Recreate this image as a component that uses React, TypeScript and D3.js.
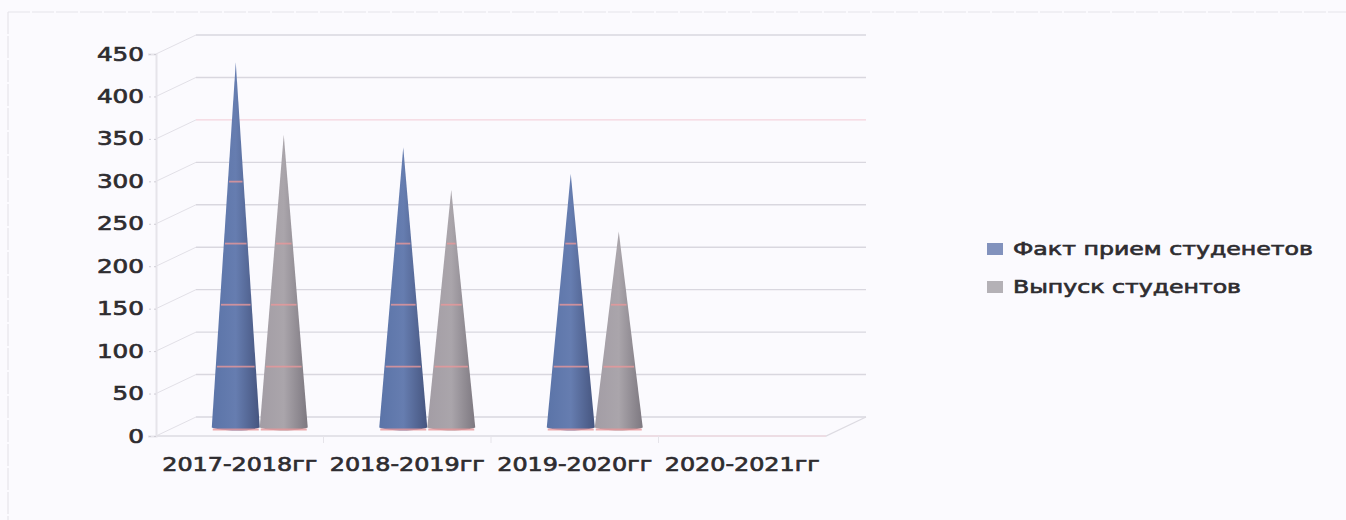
import React, { useEffect, useRef } from 'react';
import * as d3 from 'd3';

const categories = ['2017-2018гг', '2018-2019гг', '2019-2020гг', '2020-2021гг'];
const seriesNames = ['Факт прием студенетов', 'Выпуск студентов'];
const admitted = [430, 330, 299, 0];
const graduated = [345, 280, 231, 0];
const yTicks = [0, 50, 100, 150, 200, 250, 300, 350, 400, 450];
const stripeValues = [0, 74, 147, 219, 292];

const width = 1346;
const height = 520;
const left = 156;
const right = 826;
const floorY = 436;
const topY = 54;
const depthX = 40;
const depthY = 19;
const coneHalf = 24;
const fontFamily = '"DejaVu Sans", sans-serif';
const inkColor = '#2e2c30';
const inkWeight = 0.65;

const App: React.FC = () => {
    const svgRef = useRef<SVGSVGElement | null>(null);

    useEffect(() => {
        if (!svgRef.current) return;
        const svg = d3.select(svgRef.current);
        svg.selectAll('*').remove();

        const x = d3.scaleBand<string>().domain(categories).range([left, right]);
        const series = d3.scaleBand<string>()
            .domain(seriesNames)
            .range([-coneHalf * 2, coneHalf * 2]);
        const y = d3.scaleLinear().domain([0, 450]).range([floorY, topY]);

        svg.append('rect').attr('width', width).attr('height', height).attr('fill', '#fbfafe');

        // scanned page border
        svg.append('path')
            .attr('d', 'M8,12H1346M8,12V520')
            .attr('fill', 'none')
            .attr('stroke', '#e6e4ea')
            .attr('stroke-width', 1.2)
            .attr('stroke-dasharray', '22,2');

        const defs = svg.append('defs');
        const gradients = [
            ['#5b74a8', '#667db0', '#46557f'],
            ['#a39da5', '#aaa5ab', '#7d7880'],
        ];
        gradients.forEach((stops, i) => {
            const g = defs.append('linearGradient').attr('id', `cone${i}`);
            g.append('stop').attr('offset', '0%').attr('stop-color', stops[0]);
            g.append('stop').attr('offset', '50%').attr('stop-color', stops[1]);
            g.append('stop').attr('offset', '100%').attr('stop-color', stops[2]);
        });

        // back wall gridlines and their diagonals on the side wall
        const grid = svg.append('g');
        yTicks.forEach((t) => {
            const pink = t === 350;
            grid.append('line')
                .attr('x1', left + depthX).attr('x2', right + depthX)
                .attr('y1', y(t) - depthY).attr('y2', y(t) - depthY)
                .attr('stroke', pink ? '#f5d3dd' : '#d9d7df')
                .attr('stroke-width', 1.4);
            grid.append('line')
                .attr('x1', left).attr('x2', left + depthX)
                .attr('y1', y(t)).attr('y2', y(t) - depthY)
                .attr('stroke', '#e2e0e7')
                .attr('stroke-width', 1);
        });

        // floor
        grid.append('path')
            .attr('d', `M${left},${floorY}H${right}l${depthX},${-depthY}`)
            .attr('fill', 'none')
            .attr('stroke', '#dddbe2')
            .attr('stroke-width', 1.3);
        grid.append('line')
            .attr('x1', 640).attr('x2', right)
            .attr('y1', floorY).attr('y2', floorY)
            .attr('stroke', '#f6d8e0')
            .attr('stroke-width', 1.2);

        // value axis
        const yAxis = d3.axisLeft(y).tickValues(yTicks).tickSize(8).tickPadding(4);
        const yG = svg.append('g').attr('transform', `translate(${left},0)`).call(yAxis);
        yG.select('.domain').attr('stroke', '#e6e4ea').attr('stroke-width', 2);
        yG.selectAll('.tick line').attr('stroke', '#cfcdd5').attr('stroke-dasharray', '2,3');
        yG.selectAll('.tick text')
            .attr('font-family', fontFamily)
            .attr('font-size', 19)
            .attr('fill', inkColor)
            .attr('stroke', inkColor)
            .attr('stroke-width', inkWeight)
            .attr('textLength', (d) => `${d}`.length * 15.7)
            .attr('lengthAdjust', 'spacingAndGlyphs');

        // category axis
        const xAxis = d3.axisBottom(x).tickSize(0).tickPadding(22);
        const xG = svg.append('g').attr('transform', `translate(0,${floorY})`).call(xAxis);
        xG.select('.domain').remove();
        xG.selectAll('.tick text')
            .attr('font-family', fontFamily)
            .attr('font-size', 19)
            .attr('fill', inkColor)
            .attr('stroke', inkColor)
            .attr('stroke-width', inkWeight)
            .attr('textLength', 155)
            .attr('lengthAdjust', 'spacingAndGlyphs');
        x.domain().forEach((c, i) => {
            const tx = left + i * x.step();
            if (i === 0) return;
            svg.append('line')
                .attr('x1', tx).attr('x2', tx)
                .attr('y1', floorY).attr('y2', floorY + 7)
                .attr('stroke', '#e6e4ea');
        });

        // cones stand half way into the floor depth
        [admitted, graduated].forEach((values, s) => {
            const g = svg.append('g');
            values.forEach((v, i) => {
                if (v <= 0) return;
                const cx = (x(categories[i]) as number) + x.bandwidth() / 2 + depthX / 2
                    + (series(seriesNames[s]) as number) + series.bandwidth() / 2;
                const base = y(0) - depthY / 2 + 1;
                const apex = y(v) - depthY / 2 + 1;
                const path = d3.path();
                path.moveTo(cx - coneHalf, base);
                path.lineTo(cx, apex);
                path.lineTo(cx + coneHalf, base);
                path.bezierCurveTo(cx + coneHalf * 0.6, base + 4, cx - coneHalf * 0.6, base + 4, cx - coneHalf, base);
                path.closePath();
                g.append('path').attr('d', path.toString()).attr('fill', `url(#cone${s})`);

                stripeValues.filter((t) => t < v - 60).forEach((t) => {
                    const half = coneHalf * (1 - t / v);
                    const sy = base - (y(0) - y(t)) + 2;
                    g.append('line')
                        .attr('x1', cx - half + 1).attr('x2', cx + half - 1)
                        .attr('y1', sy).attr('y2', sy)
                        .attr('stroke', '#e8979a')
                        .attr('stroke-opacity', 0.8)
                        .attr('stroke-width', 1.8);
                });
            });
        });

        // legend
        const legend = svg.append('g');
        seriesNames.forEach((name, i) => {
            const ly = 249 + i * 38;
            legend.append('rect')
                .attr('x', 987).attr('y', ly - 6)
                .attr('width', 16).attr('height', 12)
                .attr('fill', i === 0 ? '#8292bd' : '#b4b1b6');
            legend.append('text')
                .attr('x', 1013).attr('y', ly + 6)
                .attr('font-family', fontFamily)
                .attr('font-size', 18)
                .attr('fill', inkColor)
                .attr('stroke', inkColor)
                .attr('stroke-width', inkWeight)
                .attr('textLength', i === 0 ? 300 : 228)
                .attr('lengthAdjust', 'spacingAndGlyphs')
                .text(name);
        });
    }, []);

    return (
        <svg
            ref={svgRef}
            width={width}
            height={height}
            style={{ position: 'absolute', left: 0, top: 0 }}
        />
    );
};

export default App;
